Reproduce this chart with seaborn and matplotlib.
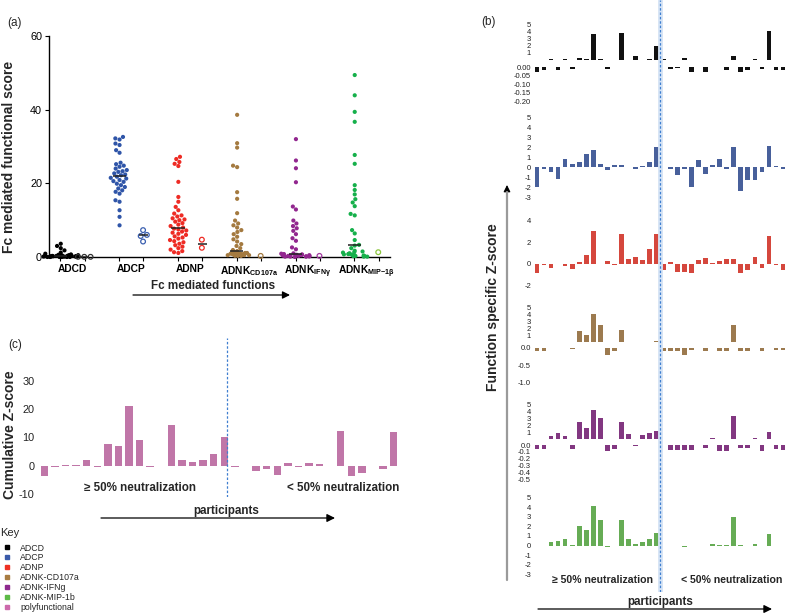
import warnings
warnings.filterwarnings('ignore')
import numpy as np
import pandas as pd
import matplotlib
matplotlib.use('Agg')
import matplotlib.pyplot as plt
import seaborn as sns
from matplotlib.ticker import FormatStrFormatter
from matplotlib.lines import Line2D
from matplotlib.patches import FancyArrowPatch

sns.set_theme(style='ticks')
plt.rcParams['font.family'] = ['Liberation Sans', 'DejaVu Sans']
plt.rcParams['axes.unicode_minus'] = False
plt.rcParams['mathtext.fontset'] = 'custom'
plt.rcParams['mathtext.rm'] = 'Liberation Sans:bold'
plt.rcParams['mathtext.it'] = 'Liberation Sans:bold:italic'
plt.rcParams['mathtext.bf'] = 'Liberation Sans:bold'
np.random.seed(7)  # only for the strip jitter

# ---------------- data: panel (a) ----------------
functions = ['ADCD', 'ADCP', 'ADNP', 'ADNK-CD107a', 'ADNK-IFNg', 'ADNK-MIP-1b']
tick_labels_a = ['ADCD', 'ADCP', 'ADNP', r'ADNK$_{\mathrm{CD107a}}$',
                 r'ADNK$_{\mathrm{IFNγ}}$', r'ADNK$_{\mathrm{MIP{-}1β}}$']
adcd_hi = [3.6, 3.0, 2.4, 1.8, 1.2, 0.9, 0.7, 0.6, 0.5, 0.5, 0.4, 0.4, 0.4, 0.3, 0.3, 0.3,
           0.3, 0.3, 0.2, 0.2, 0.2, 0.2, 0.2, 0.2, 0.1, 0.1, 0.1, 0.1, 0.1, 0.1, 0.0, 0.0,
           0.0, 0.0, 0.0, 0.0]
adcd_lo = [0.05, 0.05, 0.05]
adcp_hi = [32.6, 32.2, 31.9, 30.8, 30.4, 29.0, 28.3, 25.6, 25.2, 24.8, 24.5, 24.0, 23.6,
           23.3, 23.1, 22.7, 22.4, 22.2, 21.8, 21.5, 21.3, 20.9, 20.6, 20.4, 19.9, 19.5,
           19.0, 18.6, 18.1, 17.7, 17.2, 15.4, 15.0, 12.7, 10.9, 8.6]
adcp_lo = [7.3, 6.0, 5.7, 4.2]
adnp_hi = [27.2, 26.6, 25.8, 25.3, 24.7, 20.4, 16.3, 15.0, 13.6, 12.7, 11.8, 11.3, 11.0,
           10.5, 10.2, 10.0, 9.6, 9.2, 8.8, 8.4, 8.0, 7.7, 7.5, 7.2, 6.9, 6.6, 6.3, 6.0,
           5.6, 5.3, 5.0, 4.6, 4.3, 4.0, 3.6, 3.2, 2.8, 2.4, 2.0, 1.6, 1.3, 1.1]
adnp_lo = [4.7, 2.5]
cd107a_hi = [38.6, 30.9, 29.7, 24.8, 24.4, 17.6, 15.8, 11.9, 9.9, 9.1, 8.6, 8.0, 7.3, 6.8,
             6.2, 5.5, 4.8, 4.2, 3.5, 3.0, 2.4, 1.9, 1.6, 1.4, 1.3, 1.2, 1.2, 1.1, 1.1, 1.0,
             1.0, 0.9, 0.9, 0.8, 0.8, 0.7, 0.7, 0.6, 0.6, 0.5, 0.5, 0.5, 0.4, 0.4, 0.3, 0.3]
cd107a_lo = [0.3]
ifng_hi = [32.0, 26.2, 24.1, 20.3, 13.7, 12.9, 9.9, 9.1, 8.4, 7.8, 7.1, 6.2, 5.1, 4.4, 2.6,
           2.1, 1.0, 0.9, 0.8, 0.7, 0.6, 0.6, 0.5, 0.5, 0.4, 0.4, 0.3, 0.3, 0.2, 0.2, 0.2,
           0.1, 0.1, 0.1, 0.1, 0.0]
ifng_lo = [0.3]
mip_hi = [49.4, 43.9, 39.4, 36.7, 27.7, 25.3, 19.5, 18.2, 17.0, 15.7, 14.8, 13.8, 11.7,
          11.3, 7.3, 6.4, 4.6, 3.3, 3.1, 2.4, 1.7, 1.5, 1.3, 1.2, 1.0, 0.9, 0.8, 0.7, 0.6,
          0.5, 0.4, 0.3, 0.3, 0.2, 0.1, 0.1]
mip_lo = [1.3]
hi_lists = [adcd_hi, adcp_hi, adnp_hi, cd107a_hi, ifng_hi, mip_hi]
lo_lists = [adcd_lo, adcp_lo, adnp_lo, cd107a_lo, ifng_lo, mip_lo]

# ---------------- data: panel (b) ----------------
participants = list(range(36))
adcd_z = [-0.03, -0.02, 0.1, -0.015, 0.1, -0.01, 0.3, 0.1, 3.6, 0.1,
          -0.01, 0, 3.7, 0, 0.5, 0, 0.1, 1.9, 0.1, -0.01,
          -0.005, 0.3, -0.03, 0, -0.03, 0, 0, -0.02, 0.6, -0.03,
          -0.02, 0.1, -0.01, 4.0, -0.02, -0.02]
adcp_z = [-2.0, -0.2, -0.5, -1.2, 0.8, 0.3, 0.5, 1.3, 1.7, 0.35,
          -0.3, 0.25, 0.2, 0, -0.15, 0.15, 0.5, 2.0, 0, -0.2,
          -0.8, -0.2, -2.0, 0.7, -0.7, 0.25, 0.8, -0.15, 2.0, -2.4,
          -1.3, -1.3, -0.5, 2.1, 0.15, -0.2]
adnp_z = [-0.9, -0.1, -0.35, 0, -0.25, -0.5, 0.15, 0.8, 3.0, -0.05,
          0.3, -0.15, 2.8, 0.45, 0.6, 0.35, 1.4, 2.8, -0.6, 0.15,
          -0.75, -0.75, -0.9, 0.35, 0.5, 0.05, 0.3, 0.45, 0.45, -0.85,
          -0.55, 0.6, -0.4, 2.6, -0.15, -0.6]
cd107a_z = [-0.1, -0.1, 0, 0, 0, -0.02, 1.6, 1.0, 4.0, 2.5,
            -0.2, -0.08, 1.7, 0, 0, 0, 0, 0.2, -0.08, -0.08,
            -0.08, -0.2, -0.06, 0, -0.08, 0, -0.1, -0.1, 2.4, -0.08,
            -0.1, 0, -0.1, 0, -0.06, -0.06]
ifng_z = [-0.06, -0.06, 0.5, 0.85, 0.5, -0.06, 2.5, 1.6, 4.1, 3.0,
          -0.09, -0.06, 2.5, 0.7, -0.02, 0.6, 0.85, 1.2, 0, -0.07,
          -0.07, -0.07, -0.07, 0, -0.05, 0.1, -0.09, -0.08, 3.3, -0.05,
          -0.05, 0.1, -0.08, 1.05, -0.06, -0.07]
mip_z = [-0.05, -0.05, 0.4, 0.5, 0.7, 0.02, 2.05, 1.65, 4.15, 2.7,
         -0.2, -0.1, 2.7, 0.65, 0.15, 0.4, 0.65, 1.3, -0.05, -0.05,
         -0.05, -0.15, -0.1, 0, -0.05, 0.2, 0.05, 0.05, 3.0, 0.05,
         -0.05, 0.15, -0.05, 1.2, -0.05, -0.05]

# ---------------- data: panel (c) ----------------
participants_c = list(range(34))
poly_z = [-3.5, -0.6, 0.1, 0.4, 2.2, -0.3, 7.8, 7.1, 20.9, 9.1,
          -0.5, 0, 14.4, 2.2, 1.2, 2.0, 4.0, 10.2, -0.6, -0.2,
          -1.9, -1.3, -3.2, 0.9, -0.6, 0.8, 0.6, 0, 12.2, -3.5,
          -2.4, 0, -1.3, 11.9]
split_b = 17.55
split_c = 17.3

key_labels = ['ADCD', 'ADCP', 'ADNP', 'ADNK-CD107a', 'ADNK-IFNg', 'ADNK-MIP-1b', 'polyfunctional']

# colours / styling
col_hi = {'ADCD': '#000000', 'ADCP': '#2f55a8', 'ADNP': '#ee2b24',
          'ADNK-CD107a': '#a47a40', 'ADNK-IFNg': '#92278f', 'ADNK-MIP-1b': '#16b04b'}
col_lo = {'ADCD': '#333333', 'ADCP': '#3a5fb0', 'ADNP': '#ee2b24',
          'ADNK-CD107a': '#a47a40', 'ADNK-IFNg': '#a23aa0', 'ADNK-MIP-1b': '#8cc63f'}
# dense near-zero clusters are drawn as a jittered strip, the rest as a swarm
strip_below = {'ADCD': 1.0, 'ADCP': 0.0, 'ADNP': 0.0, 'ADNK-CD107a': 1.5,
               'ADNK-IFNg': 1.05, 'ADNK-MIP-1b': 1.6}
strip_jitter = {'ADCD': 0.62, 'ADCP': 0.4, 'ADNP': 0.4, 'ADNK-CD107a': 0.5,
                'ADNK-IFNg': 0.5, 'ADNK-MIP-1b': 0.55}
col_b = ['#111111', '#3a5aa9', '#ee3124', '#a97c42', '#8e2a8e', '#5dba47']
pink = '#cc6aac'

W, H = 800, 613
fig = plt.figure(figsize=(8, 6.13), dpi=100)


def px_axes(x0, y0, x1, y1):
    return fig.add_axes([x0 / W, 1 - y1 / H, (x1 - x0) / W, (y1 - y0) / H])


def ftext(x, y, s, **kw):
    fig.text(x / W, 1 - y / H, s, **kw)


def farrow(x0, y0, x1, y1, color='black', lw=0.9, ms=12):
    a = FancyArrowPatch((x0 / W, 1 - y0 / H), (x1 / W, 1 - y1 / H), transform=fig.transFigure,
                        arrowstyle='-|>', mutation_scale=ms, color=color, lw=lw,
                        shrinkA=0, shrinkB=0)
    fig.add_artist(a)


# ================= panel (a) =================
rows = []
for f, hi, lo in zip(functions, hi_lists, lo_lists):
    rows += [(f, 'hi', v) for v in hi] + [(f, 'lo', v) for v in lo]
dfa = pd.DataFrame(rows, columns=['function', 'group', 'score'])

axa = px_axes(49, 36, 390, 257)
common = dict(x='function', y='score', hue='group', order=functions, hue_order=['hi', 'lo'],
              dodge=True, legend=False, ax=axa)
for f in functions:
    pal = {'hi': col_hi[f], 'lo': col_lo[f]}
    hi = dfa[(dfa.function == f) & (dfa.group == 'hi')]
    n0 = len(axa.collections)
    sw = hi[hi.score > strip_below[f]]
    st = hi[hi.score <= strip_below[f]]
    if len(sw):
        sns.swarmplot(data=sw, palette=pal, size=3.0, linewidth=0, **common)
    if len(st):
        sns.stripplot(data=st, palette=pal, size=3.0, linewidth=0, jitter=strip_jitter[f],
                      **common)
    for c in axa.collections[n0:]:
        if len(c.get_offsets()):
            c.set_clip_on(False)
    n0 = len(axa.collections)
    sns.swarmplot(data=dfa[(dfa.function == f) & (dfa.group == 'lo')], palette=pal, size=3.4,
                  linewidth=0.8, **common)
    for c in axa.collections[n0:]:
        c.set_facecolor('none')
        c.set_edgecolor(col_lo[f])
        c.set_linewidth(0.9)
        if len(c.get_offsets()):
            c.set_clip_on(False)

# median lines
medkw = dict(showbox=False, showcaps=False, showfliers=False, whis=0,
             whiskerprops={'visible': False},
             medianprops={'color': '#222222', 'linewidth': 1.1, 'zorder': 6}, width=0.82)
sns.boxplot(data=dfa[dfa.group == 'hi'], gap=0.45, **medkw, **common)
lo_counts = dfa[dfa.group == 'lo'].groupby('function')['score'].transform('size')
sns.boxplot(data=dfa[(dfa.group == 'lo') & (lo_counts >= 2)], gap=0.62, **medkw, **common)

axa.set_xlim(-0.4, 5.4)
axa.set_ylim(0, 60)
axa.set_yticks([0, 20, 40, 60])
axa.set_xticks(range(len(functions)))
axa.set_xticklabels(tick_labels_a, fontweight='bold', fontsize=7.4)
axa.set_xticks([i + d for i in range(len(functions)) for d in (-0.205, 0.205)], minor=True)
axa.tick_params(axis='x', which='major', length=0, pad=5, colors='black')
axa.tick_params(axis='x', which='minor', length=3, width=0.8, color='black', direction='out')
axa.tick_params(axis='y', length=3, width=0.8, labelsize=7.8, direction='out', color='black',
                pad=2, labelcolor='black')
for s in ['top', 'right']:
    axa.spines[s].set_visible(False)
for s in ['left', 'bottom']:
    axa.spines[s].set_color('black')
    axa.spines[s].set_linewidth(1.0)
axa.set_xlabel('')
axa.set_ylabel('')
axa.patch.set_alpha(0)

ftext(15, 23, '(a)', fontsize=8.5, ha='center', va='center')
ftext(9, 157, 'Fc mediated functional score', rotation=90, fontsize=10, fontweight='bold',
      ha='center', va='center')
ftext(213, 286, 'Fc mediated functions', fontsize=8.4, fontweight='bold', ha='center',
      va='center')
farrow(133, 295, 290, 295, ms=11)

# ================= panel (b) =================
XL, XR = 533, 787


def bar_row(y0, y1, vals, color, ylim, ticks, fmt):
    ax = px_axes(XL, y0, XR, y1)
    sns.barplot(x=participants, y=vals, color=color, width=0.67, linewidth=0,
                errorbar=None, ax=ax)
    ax.set_xlim(-0.57, 35.57)
    ax.set_ylim(*ylim)
    ax.set_yticks(ticks)
    ax.yaxis.set_major_formatter(FormatStrFormatter(fmt))
    ax.set_xticks([])
    ax.set_xlabel('')
    ax.set_ylabel('')
    ax.tick_params(axis='y', length=0, labelsize=5.5, pad=1.5, labelcolor='#222222')
    for s in ax.spines.values():
        s.set_visible(False)
    ax.patch.set_alpha(0)
    return ax


def split_row(vals, color, pos_box, neg_box, neg_lim, neg_ticks, neg_fmt):
    pos = list(np.clip(vals, 0, None))
    neg = list(np.clip(vals, None, 0))
    bar_row(pos_box[0], pos_box[1], pos, color, (0, 5.3), [1, 2, 3, 4, 5], '%d')
    bar_row(neg_box[0], neg_box[1], neg, color, neg_lim, neg_ticks, neg_fmt)


split_row(adcd_z, col_b[0], (22, 60), (67, 102), (-0.205, 0),
          [0, -0.05, -0.10, -0.15, -0.20], '%.2f')
bar_row(114, 200, adcp_z, col_b[1], (-3.3, 5.3), list(range(-3, 6)), '%d')
bar_row(210, 296, adnp_z, col_b[2], (-3, 5), [-2, 0, 2, 4], '%d')
split_row(cd107a_z, col_b[3], (305, 342), (348, 384.5), (-1.05, 0), [0, -0.5, -1.0], '%.1f')
split_row(ifng_z, col_b[4], (402, 439), (445, 481), (-0.515, 0),
          [0, -0.1, -0.2, -0.3, -0.4, -0.5], '%.1f')
bar_row(495, 577, mip_z, col_b[5], (-3.3, 5.3), list(range(-3, 6)), '%d')

axo = px_axes(XL, 0, XR, 592)
axo.set_xlim(-0.57, 35.57)
axo.set_ylim(0, 1)
axo.axis('off')
axo.axvline(split_b, color='#d6e4f5', lw=3.5, zorder=1)
axo.axvline(split_b, color='#3f7fd0', lw=0.9, ls=(0, (2, 1.5)), zorder=2)

ftext(488, 22, '(b)', fontsize=8.5, ha='center', va='center')
ftext(493, 307, 'Function specific Z-score', rotation=90, fontsize=10, fontweight='bold',
      ha='center', va='center')
fig.add_artist(Line2D([507 / W, 507 / W], [1 - 580 / H, 1 - 192 / H], transform=fig.transFigure,
                      color='#9a9a9a', lw=1.6))
farrow(507, 196, 507, 185, color='black', lw=0.8, ms=10)
ftext(603, 580, '≥ 50% neutralization', fontsize=7.6, fontweight='bold', ha='center',
      va='center')
ftext(732, 580, '< 50% neutralization', fontsize=7.6, fontweight='bold', ha='center',
      va='center')
ftext(660, 602, 'participants', fontsize=8.4, fontweight='bold', ha='center', va='center')
farrow(538, 609, 772, 609, ms=12)

# ================= panel (c) =================
axc = px_axes(38, 338, 400, 497)
sns.barplot(x=participants_c, y=poly_z, color=pink, width=0.7, linewidth=0, errorbar=None,
            ax=axc)
axc.set_xlim(-0.6, 33.6)
axc.set_ylim(-11, 45)
axc.set_yticks([-10, 0, 10, 20, 30])
axc.set_xticks([])
axc.set_xlabel('')
axc.set_ylabel('')
axc.tick_params(axis='y', length=0, labelsize=7.8, pad=2.5, labelcolor='#222222')
for s in axc.spines.values():
    s.set_visible(False)
axc.patch.set_alpha(0)
axc.axvline(split_c, color='#3f7fd0', lw=0.9, ls=(0, (2, 1.5)), zorder=3)

ftext(15, 345, '(c)', fontsize=8.5, ha='center', va='center')
ftext(10, 435, 'Cumulative Z-score', rotation=90, fontsize=10, fontweight='bold',
      ha='center', va='center')
ftext(140, 488, '≥ 50% neutralization', fontsize=8.4, fontweight='bold', ha='center',
      va='center')
ftext(343, 488, '< 50% neutralization', fontsize=8.4, fontweight='bold', ha='center',
      va='center')
ftext(226, 511, 'participants', fontsize=8.4, fontweight='bold', ha='center', va='center')
farrow(101, 518, 335, 518, ms=12)

# ================= key =================
key_colors = ['#000000', '#3a5aa9', '#ee3124', '#a97c42', '#8e2a8e', '#5dba47', pink]
axk = px_axes(0, 528, 120, 613)
axk.axis('off')
handles = [Line2D([], [], marker='s', ls='', color=c, markersize=3.3) for c in key_colors]
leg = axk.legend(handles, key_labels, loc='upper left', bbox_to_anchor=(0.002, 1),
                 frameon=False, title='Key', fontsize=6.3, title_fontsize=8,
                 handlelength=1.6, handletextpad=0.7, labelspacing=0.1, borderpad=0,
                 borderaxespad=0, alignment='left', numpoints=1)
leg._legend_box.sep = 4

fig.savefig('out.png', dpi=100)
